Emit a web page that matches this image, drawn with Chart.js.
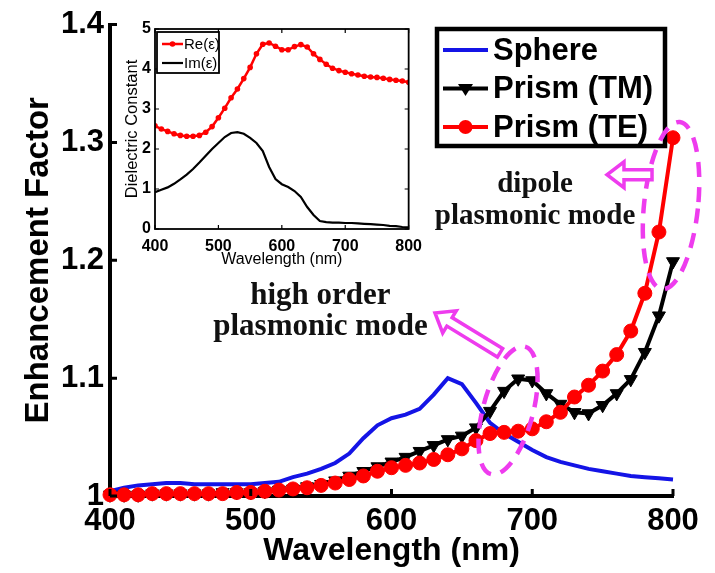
<!DOCTYPE html>
<html>
<head>
<meta charset="utf-8">
<script src="https://cdn.jsdelivr.net/npm/chart.js@4.4.0/dist/chart.umd.min.js"></script>
<style>
  html, body { margin: 0; padding: 0; background: #fff; }
  #wrap { position: relative; width: 715px; height: 573px; }
  #mainChart { position: absolute; left: 0; top: 0; }
  #insetChart { position: absolute; left: 100px; top: 15px; }
</style>
</head>
<body>
<div id="wrap">
  <canvas id="mainChart" width="715" height="573"></canvas>
  <canvas id="insetChart" width="330" height="260"></canvas>
</div>
<script>
// wavelengths (nm), sampled every 10 nm
var wavelength = [
  400, 410, 420, 430, 440, 450, 460, 470, 480, 490,
  500, 510, 520, 530, 540, 550, 560, 570, 580, 590,
  600, 610, 620, 630, 640, 650, 660, 670, 680, 690,
  700, 710, 720, 730, 740, 750, 760, 770, 780, 790, 800
];

// enhancement factor, main plot
var sphere = [
  1.004, 1.007, 1.009, 1.010, 1.011, 1.011, 1.010, 1.010, 1.010, 1.010,
  1.010, 1.011, 1.012, 1.016, 1.019, 1.023, 1.028, 1.036, 1.049, 1.060,
  1.066, 1.069, 1.074, 1.086, 1.100, 1.095, 1.079, 1.062, 1.053, 1.046,
  1.039, 1.033, 1.029, 1.026, 1.023, 1.021, 1.019, 1.017, 1.016, 1.015, 1.014
];
var prismTM = [
  1.001, 1.001, 1.001, 1.002, 1.002, 1.002, 1.002, 1.002, 1.003, 1.003,
  1.003, 1.004, 1.005, 1.006, 1.008, 1.010, 1.013, 1.017, 1.021, 1.025,
  1.029, 1.033, 1.038, 1.043, 1.048, 1.051, 1.058, 1.072, 1.089, 1.0995,
  1.098, 1.087, 1.078, 1.071, 1.070, 1.077, 1.087, 1.099, 1.122, 1.153, 1.199
];
var prismTE = [
  1.001, 1.001, 1.001, 1.002, 1.002, 1.002, 1.002, 1.002, 1.002, 1.003,
  1.003, 1.004, 1.005, 1.006, 1.007, 1.009, 1.011, 1.014, 1.017, 1.021,
  1.024, 1.026, 1.028, 1.031, 1.035, 1.040, 1.047, 1.053, 1.054, 1.055,
  1.057, 1.063, 1.071, 1.084, 1.094, 1.106, 1.120, 1.140, 1.172, 1.224, 1.304
];

// dielectric constant, inset
var epsRe = [
  2.58, 2.50, 2.44, 2.38, 2.34, 2.32, 2.32, 2.34, 2.42, 2.56,
  2.78, 3.02, 3.28, 3.50, 3.76, 4.04, 4.38, 4.62, 4.65, 4.57,
  4.48, 4.48, 4.56, 4.61, 4.55, 4.38, 4.24, 4.12, 4.02, 3.96,
  3.92, 3.88, 3.85, 3.82, 3.80, 3.79, 3.77, 3.74, 3.72, 3.70, 3.67
];
var epsIm = [
  0.92, 0.98, 1.04, 1.13, 1.24, 1.36, 1.50, 1.66, 1.83, 2.00,
  2.15, 2.30, 2.40, 2.42, 2.38, 2.28, 2.15, 1.95, 1.55, 1.25,
  1.12, 1.05, 0.95, 0.80, 0.55, 0.35, 0.20, 0.17, 0.16, 0.16,
  0.15, 0.15, 0.14, 0.13, 0.12, 0.11, 0.10, 0.08, 0.07, 0.05, 0.04
];

// ticks
var xTicks = [400, 500, 600, 700, 800];
var yTicks = [1, 1.1, 1.2, 1.3, 1.4];
var yTickLabels = ['1', '1.1', '1.2', '1.3', '1.4'];
var insetYTicks = [0, 1, 2, 3, 4, 5];

var SANS = "'Liberation Sans', Arial, sans-serif";
var SERIF = "'Liberation Serif', 'Times New Roman', serif";
var MAGENTA = '#ee3cee';

function pts(ys) {
  return wavelength.map(function (w, i) { return { x: w, y: ys[i] }; });
}

// ticks pointing into the plot, optional full box
var inwardTicks = {
  id: 'inwardTicks',
  afterDatasetsDraw: function (chart, args, opts) {
    var ctx = chart.ctx, a = chart.chartArea;
    var sx = chart.scales.x, sy = chart.scales.y;
    ctx.save();
    ctx.strokeStyle = '#000';
    ctx.lineWidth = opts.width;
    ctx.beginPath();
    sx.ticks.forEach(function (t) {
      var p = sx.getPixelForValue(t.value);
      ctx.moveTo(p, a.bottom); ctx.lineTo(p, a.bottom - opts.len);
      if (opts.box) { ctx.moveTo(p, a.top); ctx.lineTo(p, a.top + opts.len); }
    });
    sy.ticks.forEach(function (t) {
      var p = sy.getPixelForValue(t.value);
      ctx.moveTo(a.left, p); ctx.lineTo(a.left + opts.len, p);
      if (opts.box) { ctx.moveTo(a.right, p); ctx.lineTo(a.right - opts.len, p); }
    });
    ctx.stroke();
    if (opts.box) {
      ctx.lineWidth = opts.boxWidth;
      ctx.strokeRect(a.left, a.top, a.right - a.left, a.bottom - a.top);
    }
    ctx.restore();
  }
};

function drawMarker(ctx, style, x, y, r, color) {
  ctx.fillStyle = color;
  ctx.beginPath();
  if (style === 'triangle') {
    ctx.moveTo(x - r, y - r * 0.6);
    ctx.lineTo(x + r, y - r * 0.6);
    ctx.lineTo(x, y + r);
    ctx.closePath();
  } else {
    ctx.arc(x, y, r, 0, Math.PI * 2);
  }
  ctx.fill();
}

// boxed legend drawn from the datasets
var boxLegend = {
  id: 'boxLegend',
  afterDraw: function (chart, args, o) {
    var ctx = chart.ctx;
    ctx.save();
    ctx.fillStyle = '#fff';
    ctx.fillRect(o.x, o.y, o.w, o.h);
    ctx.strokeStyle = '#000';
    ctx.lineWidth = o.border;
    ctx.strokeRect(o.x, o.y, o.w, o.h);
    ctx.font = o.font;
    ctx.textBaseline = 'middle';
    chart.data.datasets.forEach(function (ds, i) {
      var ry = o.y + o.rowStart + i * o.rowGap;
      ctx.strokeStyle = ds.borderColor;
      ctx.lineWidth = ds.borderWidth;
      ctx.beginPath();
      ctx.moveTo(o.x + o.lineX0, ry);
      ctx.lineTo(o.x + o.lineX1, ry);
      ctx.stroke();
      if (ds.pointRadius > 0) {
        drawMarker(ctx, ds.legendMarker, o.x + (o.lineX0 + o.lineX1) / 2, ry, ds.pointRadius, ds.pointBackgroundColor);
      }
      ctx.fillStyle = '#000';
      ctx.fillText(ds.label, o.x + o.textX, ry + 1);
    });
    ctx.restore();
  }
};

// dashed ellipses, hollow arrows and labels, anchored in data units
var notes = {
  ellipses: [
    { x: 798.6, y: 1.2464, rx: 27, ry: 84, rot: 6 },
    { x: 682.8, y: 1.0726, rx: 25, ry: 66, rot: 15 }
  ],
  arrows: [
    { from: [785.1, 1.2726], to: [753.1, 1.2726] },
    { from: [677.1, 1.1215], to: [630.9, 1.1553] }
  ],
  texts: [
    { x: 702.0, size: 29, lines: [['dipole', 1.2582], ['plasmonic mode', 1.2312]] },
    { x: 549.5, size: 31, lines: [['high order', 1.1629], ['plasmonic mode', 1.1367]] }
  ]
};

var annotate = {
  id: 'annotate',
  afterDraw: function (chart) {
    var ctx = chart.ctx, sx = chart.scales.x, sy = chart.scales.y;
    ctx.save();
    ctx.strokeStyle = MAGENTA;
    ctx.lineWidth = 4.5;
    ctx.setLineDash([15, 10]);
    notes.ellipses.forEach(function (e) {
      ctx.beginPath();
      ctx.ellipse(sx.getPixelForValue(e.x), sy.getPixelForValue(e.y), e.rx, e.ry, e.rot * Math.PI / 180, 0, Math.PI * 2);
      ctx.stroke();
    });
    ctx.setLineDash([]);
    ctx.lineWidth = 3.5;
    ctx.lineJoin = 'miter';
    notes.arrows.forEach(function (a) {
      var x0 = sx.getPixelForValue(a.from[0]), y0 = sy.getPixelForValue(a.from[1]);
      var x1 = sx.getPixelForValue(a.to[0]), y1 = sy.getPixelForValue(a.to[1]);
      var L = Math.hypot(x1 - x0, y1 - y0), dx = (x1 - x0) / L, dy = (y1 - y0) / L;
      var nx = -dy, ny = dx, sw = 5, hw = 13, hl = 17;
      var mx = x1 - dx * hl, my = y1 - dy * hl;
      ctx.beginPath();
      ctx.moveTo(x0 + nx * sw, y0 + ny * sw);
      ctx.lineTo(mx + nx * sw, my + ny * sw);
      ctx.lineTo(mx + nx * hw, my + ny * hw);
      ctx.lineTo(x1, y1);
      ctx.lineTo(mx - nx * hw, my - ny * hw);
      ctx.lineTo(mx - nx * sw, my - ny * sw);
      ctx.lineTo(x0 - nx * sw, y0 - ny * sw);
      ctx.closePath();
      ctx.fillStyle = '#fff';
      ctx.fill();
      ctx.stroke();
    });
    ctx.fillStyle = '#111';
    ctx.textAlign = 'center';
    ctx.textBaseline = 'alphabetic';
    notes.texts.forEach(function (t) {
      var cx = sx.getPixelForValue(t.x);
      ctx.font = 'bold ' + t.size + 'px ' + SERIF;
      t.lines.forEach(function (ln) {
        ctx.fillText(ln[0], cx, sy.getPixelForValue(ln[1]));
      });
    });
    ctx.restore();
  }
};

var tickFont = { family: SANS, size: 31, weight: 'bold' };

new Chart(document.getElementById('mainChart').getContext('2d'), {
  type: 'line',
  data: {
    datasets: [
      {
        label: 'Sphere', data: pts(sphere), order: 3,
        borderColor: '#1414e6', borderWidth: 4, pointRadius: 0, tension: 0, clip: false
      },
      {
        label: 'Prism (TM)', data: pts(prismTM), order: 2, legendMarker: 'triangle',
        borderColor: '#000', borderWidth: 4, tension: 0, clip: false,
        pointStyle: 'triangle', rotation: 180, pointRadius: 7.5,
        pointBackgroundColor: '#000', pointBorderColor: '#000', pointBorderWidth: 1
      },
      {
        label: 'Prism (TE)', data: pts(prismTE), order: 1, legendMarker: 'circle',
        borderColor: '#ff0000', borderWidth: 4, tension: 0, clip: false,
        pointStyle: 'circle', pointRadius: 7,
        pointBackgroundColor: '#ff0000', pointBorderColor: '#ff0000', pointBorderWidth: 1
      }
    ]
  },
  options: {
    responsive: false,
    animation: false,
    devicePixelRatio: 1,
    layout: { padding: { top: 22, right: 42, left: 0, bottom: 0 } },
    plugins: {
      legend: { display: false },
      tooltip: { enabled: false },
      inwardTicks: { len: 7, width: 3, box: false },
      boxLegend: {
        x: 437, y: 29, w: 228, h: 117, border: 4.5,
        rowStart: 21, rowGap: 38.5, lineX0: 6, lineX1: 51, textX: 56,
        font: 'bold 31px ' + SANS
      }
    },
    scales: {
      x: {
        type: 'linear', min: 400, max: 800,
        afterBuildTicks: function (s) { s.ticks = xTicks.map(function (v) { return { value: v }; }); },
        afterFit: function (s) { s.height = 77; },
        grid: { display: false, drawTicks: false },
        border: { display: true, color: '#000', width: 4 },
        ticks: { color: '#000', font: tickFont, padding: 7, maxRotation: 0, autoSkip: false },
        title: {
          display: true, text: 'Wavelength (nm)', color: '#000',
          font: { family: SANS, size: 32, weight: 'bold' }, padding: { top: 0, bottom: 3 }
        }
      },
      y: {
        type: 'linear', min: 1, max: 1.4,
        afterBuildTicks: function (s) { s.ticks = yTicks.map(function (v) { return { value: v }; }); },
        afterFit: function (s) { s.width = 110; },
        grid: { display: false, drawTicks: false },
        border: { display: true, color: '#000', width: 4 },
        ticks: {
          color: '#000', font: tickFont, padding: 6, autoSkip: false,
          callback: function (v, i) { return yTickLabels[i]; }
        },
        title: {
          display: true, text: 'Enhancement Factor', color: '#000',
          font: { family: SANS, size: 33, weight: 'bold' }, padding: { top: 19, bottom: 0 }
        }
      }
    }
  },
  plugins: [inwardTicks, boxLegend, annotate]
});

var smallFont = { family: SANS, size: 16, weight: 'bold' };

new Chart(document.getElementById('insetChart').getContext('2d'), {
  type: 'line',
  data: {
    datasets: [
      {
        label: 'Re(ε)', data: pts(epsRe), legendMarker: 'circle',
        borderColor: '#ff0000', borderWidth: 2.5, tension: 0,
        pointRadius: 2.8, pointBackgroundColor: '#ff0000', pointBorderColor: '#ff0000', pointBorderWidth: 0
      },
      {
        label: 'Im(ε)', data: pts(epsIm),
        borderColor: '#000', borderWidth: 2.2, tension: 0, pointRadius: 0
      }
    ]
  },
  options: {
    responsive: false,
    animation: false,
    devicePixelRatio: 1,
    layout: { padding: { top: 14, right: 15, left: 0, bottom: 0 } },
    plugins: {
      legend: { display: false },
      tooltip: { enabled: false },
      inwardTicks: { len: 4, width: 1.2, box: true, boxWidth: 1.8 },
      boxLegend: {
        x: 57, y: 17, w: 62, h: 41, border: 1.8,
        rowStart: 12, rowGap: 19, lineX0: 5, lineX1: 26, textX: 27,
        font: '15px ' + SANS
      }
    },
    scales: {
      x: {
        type: 'linear', min: 400, max: 800,
        afterBuildTicks: function (s) { s.ticks = xTicks.map(function (v) { return { value: v }; }); },
        afterFit: function (s) { s.height = 46; },
        grid: { display: false, drawTicks: false },
        border: { display: false },
        ticks: { color: '#000', font: smallFont, padding: 8, maxRotation: 0, autoSkip: false },
        title: { display: true, text: 'Wavelength (nm)', color: '#000', font: { family: SANS, size: 16 }, padding: { top: 0, bottom: 6 } }
      },
      y: {
        type: 'linear', min: 0, max: 5,
        afterBuildTicks: function (s) { s.ticks = insetYTicks.map(function (v) { return { value: v }; }); },
        afterFit: function (s) { s.width = 55; },
        grid: { display: false, drawTicks: false },
        border: { display: false },
        ticks: { color: '#000', font: smallFont, padding: 4, autoSkip: false },
        title: { display: true, text: 'Dielectric Constant', color: '#000', font: { family: SANS, size: 16.5 }, padding: { top: 23, bottom: 0 } }
      }
    }
  },
  plugins: [inwardTicks, boxLegend]
});
</script>
</body>
</html>
